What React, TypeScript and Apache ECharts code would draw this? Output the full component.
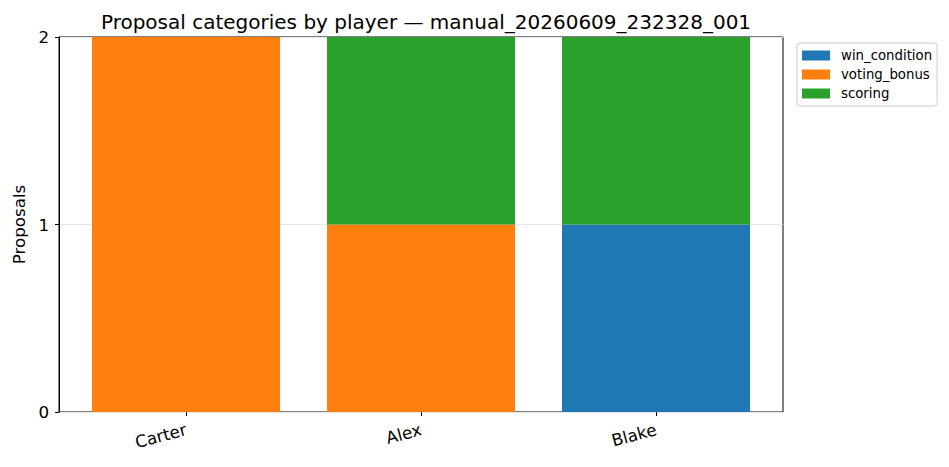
import React, { useEffect, useRef } from "react";
import * as echarts from "echarts";

const players = ["Carter", "Alex", "Blake"];
const seriesNames = ["win_condition", "voting_bonus", "scoring"];
const winCondition = [0, 0, 1];
const votingBonus = [2, 1, 0];
const scoring = [0, 1, 1];
const colors = ["#1f77b4", "#ff7f0e", "#2ca02c"];

const FONT = "DejaVu Sans";

export default function App() {
  const ref = useRef<HTMLDivElement>(null);
  useEffect(() => {
    document.body.style.margin = "0";
    const chart = echarts.init(ref.current!, null, { renderer: "svg" });
    const values = [winCondition, votingBonus, scoring];
    chart.setOption({
      animation: false,
      backgroundColor: "#ffffff",
      textStyle: { fontFamily: FONT },
      title: {
        text: "Proposal categories by player — manual_20260609_232328_001",
        left: 421,
        textAlign: "center",
        top: 7,
        textStyle: { fontFamily: FONT, fontSize: 20, fontWeight: "normal", color: "#000" },
      },
      legend: {
        orient: "vertical",
        left: 797,
        top: 43,
        icon: "rect",
        itemWidth: 28,
        itemHeight: 10,
        itemGap: 6,
        padding: [6, 5, 6, 5],
        borderColor: "#cccccc",
        borderWidth: 1,
        borderRadius: 3,
        data: seriesNames,
        textStyle: { fontFamily: FONT, fontSize: 13.3, color: "#000", padding: [0, 0, 0, 6] },
      },
      grid: [
        {
          left: 59,
          right: 166,
          top: 37,
          bottom: 55,
          show: true,
          borderColor: "#000",
          borderWidth: 1,
        },
        {
          left: 68.5,
          right: 175.5,
          top: 37,
          bottom: 55,
        },
      ],
      xAxis: [
        { type: "value", gridIndex: 0, show: false, min: 0, max: 1 },
        {
          type: "category",
          gridIndex: 1,
          data: players,
          axisLine: { show: false },
          axisTick: { show: true, alignWithLabel: true, length: 4, lineStyle: { color: "#000" } },
          axisLabel: {
            rotate: 15,
            margin: 17,
            fontFamily: FONT,
            fontSize: 16.7,
            color: "#000",
          },
        },
      ],
      yAxis: [
        {
          type: "value",
          gridIndex: 0,
          min: 0,
          max: 2,
          interval: 1,
          name: "Proposals",
          nameLocation: "middle",
          nameGap: 31,
          nameTextStyle: { fontFamily: FONT, fontSize: 16.7, color: "#000" },
          axisLine: { show: true, lineStyle: { color: "#000", width: 1 } },
          axisTick: { show: true, length: 4, lineStyle: { color: "#000" } },
          axisLabel: { fontFamily: FONT, fontSize: 16.7, color: "#000", margin: 10 },
          splitLine: { show: true, lineStyle: { color: "#e6e6e6", width: 1 } },
        },
        { type: "value", gridIndex: 1, min: 0, max: 2, show: false, splitLine: { show: false } },
      ],
      series: seriesNames.map((name, i) => ({
        name,
        type: "bar",
        xAxisIndex: 1,
        yAxisIndex: 1,
        stack: "total",
        barWidth: 188,
        itemStyle: { color: colors[i] },
        data: values[i],
      })),
    });
    return () => chart.dispose();
  }, []);
  return (
    <div
      ref={ref}
      style={{ position: "absolute", left: 0, top: 0, width: 949, height: 467 }}
    />
  );
}
